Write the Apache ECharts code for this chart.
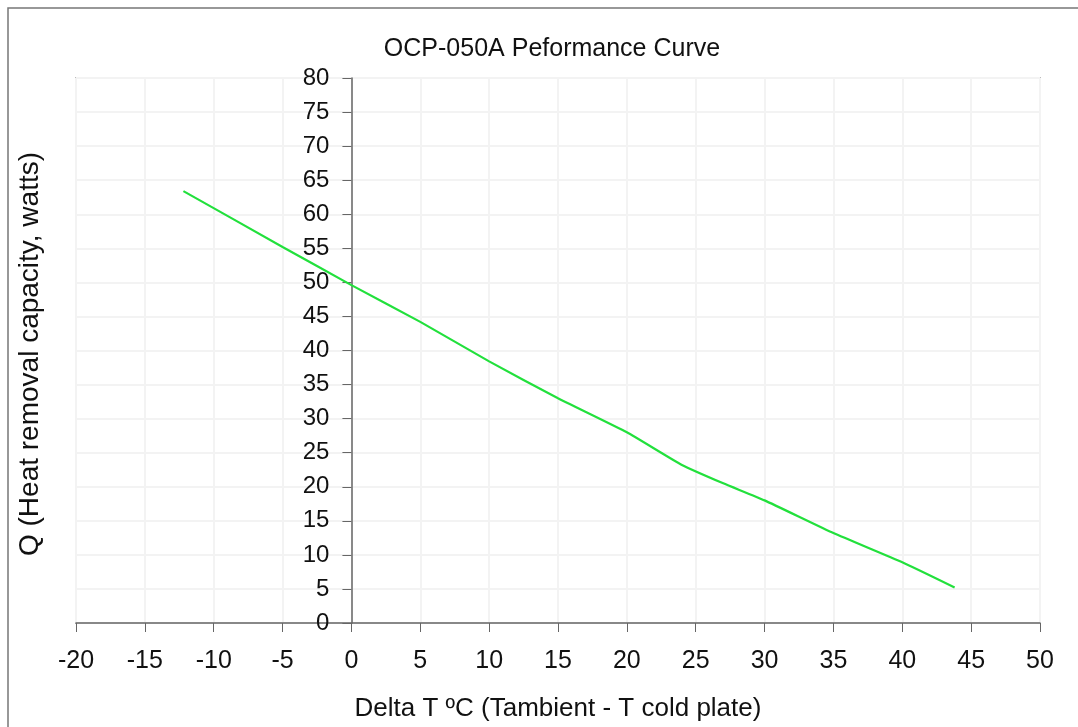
<!DOCTYPE html>
<html>
<head>
<meta charset="utf-8">
<script src="https://cdn.jsdelivr.net/npm/echarts@6/dist/echarts.min.js"></script>
<style>html,body{margin:0;padding:0;background:#fff}#c{width:1078px;height:727px}</style>
</head>
<body>
<div id="c"></div>
<script>
const titleText = 'OCP-050A Peformance Curve';
const xName = 'Delta T ºC (Tambient - T cold plate)';
const yName = 'Q (Heat removal capacity, watts)';
const deltaT = [-12.2, -5, 0, 5, 10, 15, 20, 24, 27, 30, 35, 40, 43.8];
const qWatts = [63.4, 55.2, 49.6, 44.2, 38.4, 33.0, 28.0, 23.2, 20.5, 18.0, 13.2, 8.9, 5.2];
const xMin = -20, xMax = 50, yMin = 0, yMax = 80;

const W = 1078, H = 727;
const gLeft = 76, gRight = 38, gTop = 78, gBottom = 103;
const plotW = W - gLeft - gRight;
const zeroOffset = -plotW * (0 - xMin) / (xMax - xMin);

const chart = echarts.init(document.getElementById('c'), null, {renderer: 'canvas'});
const font = '"Liberation Sans", Arial, sans-serif';
chart.setOption({
  animation: false,
  backgroundColor: '#fff',
  title: {
    text: titleText, left: 547, textAlign: 'center', top: 32,
    textStyle: {fontFamily: font, fontSize: 25, fontWeight: 'normal', color: '#111'}
  },
  graphic: [{
    type: 'rect', shape: {x: 8, y: 8, width: 1200, height: 900},
    style: {fill: 'none', stroke: '#777', lineWidth: 1.5}, silent: true, z: -1
  }, {
    type: 'text', x: 30, y: 354, rotation: Math.PI / 2,
    style: {text: yName, fontFamily: font, fontSize: 28, fill: '#111', align: 'center', verticalAlign: 'middle'},
    silent: true
  }],
  grid: {left: gLeft, right: gRight, top: gTop, bottom: gBottom, show: true, borderColor: '#888', borderWidth: 1.5},
  xAxis: {
    type: 'value', min: xMin, max: xMax, interval: 5,
    name: xName, nameLocation: 'middle', nameGap: 73,
    nameTextStyle: {fontFamily: font, fontSize: 26, color: '#111'},
    axisLine: {onZero: false, lineStyle: {color: '#666', width: 1.5}},
    axisTick: {show: true, length: 9, lineStyle: {color: '#666'}},
    axisLabel: {fontFamily: font, fontSize: 25, color: '#111', margin: 26},
    splitLine: {show: true, lineStyle: {color: '#f3f3f3', width: 2}}
  },
  yAxis: {
    type: 'value', min: yMin, max: yMax, interval: 5,
    position: 'left', offset: zeroOffset,
    axisLine: {show: true, onZero: false, lineStyle: {color: '#666', width: 1.5}},
    axisTick: {show: true, length: 9, lineStyle: {color: '#666'}},
    axisLabel: {fontFamily: font, fontSize: 24, color: '#111', margin: 22},
    splitLine: {show: true, lineStyle: {color: '#f3f3f3', width: 2}}
  },
  series: [{
    type: 'line',
    data: deltaT.map((x, i) => [x, qWatts[i]]),
    showSymbol: false, smooth: 0.15,
    lineStyle: {color: '#22e03c', width: 2.2}
  }]
});
</script>
</body>
</html>
